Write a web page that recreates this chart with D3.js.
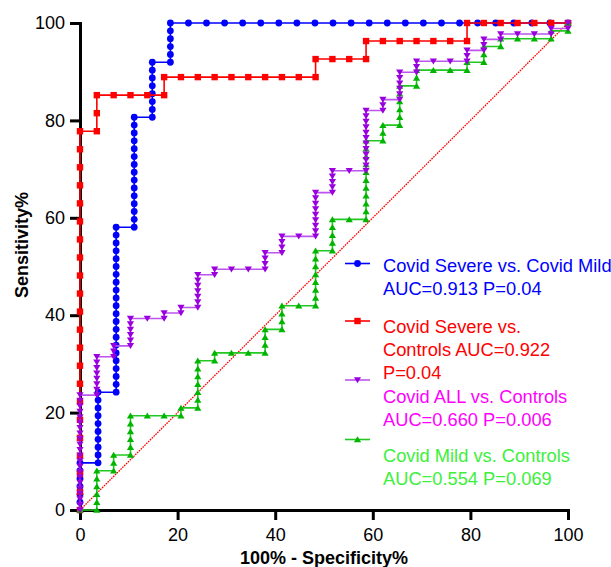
<!DOCTYPE html>
<html><head><meta charset="utf-8">
<script src="https://cdn.jsdelivr.net/npm/d3@7"></script>
<style>body{margin:0;background:#fff}</style>
</head><body>
<svg id="chart" width="611" height="567"></svg>
<script>
const xTicks = [0, 20, 40, 60, 80, 100];
const yTicks = [0, 20, 40, 60, 80, 100];
const seriesNames = ["Covid Severe vs. Covid Mild", "Covid Severe vs. Controls", "Covid ALL vs. Controls", "Covid Mild vs. Controls"];
const legendLines = [
  ["Covid Severe vs. Covid Mild", "AUC=0.913 P=0.04"],
  ["Covid Severe vs.", "Controls AUC=0.922", "P=0.04"],
  ["Covid ALL vs. Controls", "AUC=0.660 P=0.006"],
  ["Covid Mild vs. Controls", "AUC=0.554 P=0.069"]
];
const negCounts = [27, 29, 29, 29];
const posCounts = [62, 27, 89, 62];
// cumulative true-positive count reached at each false-positive count 0..n
const tpSevereMild = [6,15,36,50,57,62,62,62,62,62,62,62,62,62,62,62,62,62,62,62,62,62,62,62,62,62,62,62];
const tpSevereControls = [21,23,23,23,23,24,24,24,24,24,24,24,24,24,25,25,25,26,26,26,26,26,26,27,27,27,27,27,27,27];
const tpAllControls = [21,28,30,35,35,36,37,43,44,44,44,47,50,50,58,62,62,73,75,80,82,82,82,84,86,87,87,87,88,89];
const tpMildControls = [0,5,7,12,12,12,13,19,20,20,20,23,26,26,33,37,37,47,49,54,56,56,56,57,59,60,60,60,61,62];
const diagonal = [[0, 0], [100, 100]];

const tpData = [tpSevereMild, tpSevereControls, tpAllControls, tpMildControls];
const markerColors = ["#0000ff", "#ff0000", "#9900dd", "#00b400"];
const lineColors = ["#0000ff", "#ff0000", "#bb55ee", "#22c822"];
const textColors = ["#0000ff", "#ff0000", "#ff00ff", "#3cf03c"];
const shapes = ["circle", "square", "down", "up"];
const drawOrder = [0, 1, 3, 2];

const svg = d3.select("#chart");
const x = d3.scaleLinear().domain([0, 100]).range([80, 568]);
const y = d3.scaleLinear().domain([0, 100]).range([510, 23]);
const font = "'Liberation Sans', Arial, sans-serif";

function rocPoints(tp, nNeg, nPos) {
  const pts = [];
  tp.forEach((t, i) => {
    const start = i === 0 ? 0 : tp[i - 1];
    for (let k = start; k <= t; k++) pts.push([i / nNeg * 100, k / nPos * 100]);
  });
  return pts;
}

function marker(g, shape, cx, cy, color) {
  if (shape === "circle") {
    g.append("circle").attr("cx", cx).attr("cy", cy).attr("r", 3.4).attr("fill", color);
  } else if (shape === "square") {
    g.append("rect").attr("x", cx - 3.2).attr("y", cy - 3.2).attr("width", 6.4).attr("height", 6.4).attr("fill", color);
  } else if (shape === "down") {
    g.append("path").attr("d", `M${cx-3.6},${cy-2.8}L${cx+3.6},${cy-2.8}L${cx},${cy+3.2}Z`).attr("fill", color);
  } else {
    g.append("path").attr("d", `M${cx-3.6},${cy+2.8}L${cx+3.6},${cy+2.8}L${cx},${cy-3.2}Z`).attr("fill", color);
  }
}

// axes
const xAxis = svg.append("g").attr("transform", "translate(0,510)")
  .call(d3.axisBottom(x).tickValues(xTicks).tickSize(10).tickSizeOuter(0).tickPadding(8));
const yAxis = svg.append("g").attr("transform", "translate(80,0)")
  .call(d3.axisLeft(y).tickValues(yTicks).tickSize(10).tickSizeOuter(0).tickPadding(5));
[xAxis, yAxis].forEach(a => {
  a.select(".domain").attr("stroke", "#000").attr("stroke-width", 3).attr("stroke-linecap", "square");
  a.selectAll(".tick line").attr("stroke", "#000").attr("stroke-width", 3);
  a.selectAll(".tick text").attr("font-family", font).attr("font-size", 18).attr("fill", "#000");
});

// diagonal
svg.append("path").datum(diagonal)
  .attr("d", d3.line().x(d => x(d[0])).y(d => y(d[1])))
  .attr("stroke", "#ff0000").attr("stroke-width", 1.3).attr("stroke-dasharray", "1.6,1").attr("fill", "none");

// series
drawOrder.forEach(s => {
  const pts = rocPoints(tpData[s], negCounts[s], posCounts[s]);
  const g = svg.append("g");
  g.append("path").datum(pts)
    .attr("d", d3.line().x(d => x(d[0])).y(d => y(d[1])))
    .attr("stroke", lineColors[s]).attr("stroke-width", 1.6).attr("fill", "none");
  pts.forEach(p => marker(g, shapes[s], x(p[0]), y(p[1]), markerColors[s]));
});

// axis titles
svg.append("text").attr("x", 324).attr("y", 564).attr("text-anchor", "middle")
  .attr("font-family", font).attr("font-size", 18).attr("font-weight", "bold").text("100% - Specificity%");
svg.append("text").attr("transform", "translate(28,245) rotate(-90)").attr("text-anchor", "middle")
  .attr("font-family", font).attr("font-size", 18).attr("font-weight", "bold").text("Sensitivity%");

// legend
const symY = [263.5, 321, 380, 439.5];
const textY = [272, 333.3, 403.3, 462];
legendLines.forEach((lines, s) => {
  const g = svg.append("g");
  g.append("line").attr("x1", 345).attr("x2", 370).attr("y1", symY[s]).attr("y2", symY[s])
    .attr("stroke", lineColors[s]).attr("stroke-width", 1.6);
  marker(g, shapes[s], 357.5, symY[s], markerColors[s]);
  const t = g.append("text").attr("font-family", font).attr("font-size", 18.3).attr("fill", textColors[s]);
  lines.forEach((ln, j) => t.append("tspan").attr("x", 383).attr("y", textY[s] + j * 22.8).text(ln));
});
</script>
</body></html>
